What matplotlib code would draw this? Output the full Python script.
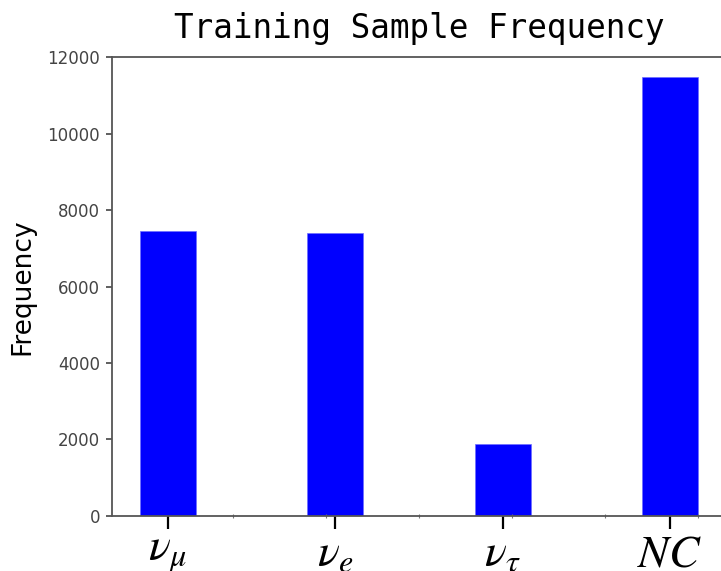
import numpy as np
import matplotlib
matplotlib.use("Agg")
import matplotlib.pyplot as plt

# data
categories = [r'$\nu_\mu$', r'$\nu_e$', r'$\nu_\tau$', r'$NC$']
counts = [7445, 7410, 1880, 11500]

plt.rcParams['mathtext.fontset'] = 'stix'

fig = plt.figure(figsize=(7.21, 5.71), dpi=100)
# right edge of the axes runs just past the figure, like the cropped original
ax = fig.add_axes([0.1553, 0.0968, 0.853, 0.8025])

x = np.arange(len(categories))
ax.bar(x, counts, width=0.335, color='#0000ff', edgecolor='#6f6fff', linewidth=0.5)

ax.set_xlim(-0.335, 3.341)
ax.set_ylim(0, 12000)
ax.set_yticks(np.arange(0, 12001, 2000))

ax.set_xticks(x)
ax.set_xticklabels(categories, fontsize=33)
ax.set_xticks([0.389, 0.944, 1.5, 2.056, 2.611, 3.167], minor=True)

ax.tick_params(axis='x', which='major', length=9, width=1.6, color='black', pad=2)
ax.tick_params(axis='x', which='minor', length=2.5, width=0.8, color='#777777', direction='inout')
ax.tick_params(axis='y', which='major', length=4.5, width=1.2, color='#444444',
               labelsize=12, labelcolor='#444444', pad=4)

for sp in ax.spines.values():
    sp.set_color('#555555')
    sp.set_linewidth(1.3)
ax.spines['right'].set_visible(False)

ax.set_title('Training Sample Frequency', family='DejaVu Sans Mono', fontsize=23.5, pad=14)
ax.set_ylabel('Frequency', fontsize=19, labelpad=9)

fig.savefig('out.png', dpi=100)
